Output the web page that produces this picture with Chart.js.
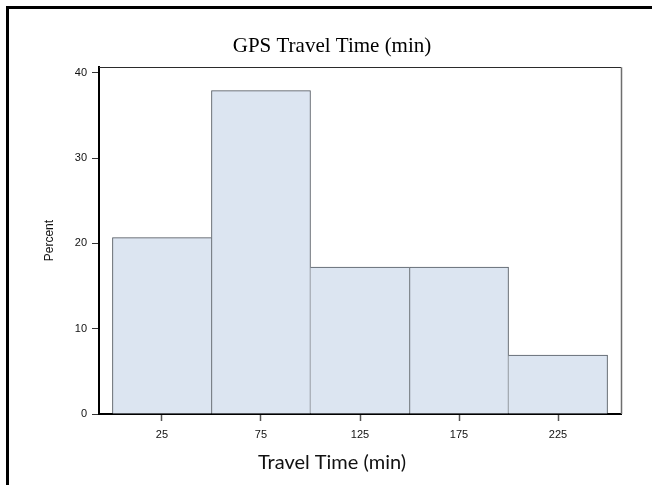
<!DOCTYPE html>
<html>
<head>
<meta charset="utf-8">
<script src="https://cdn.jsdelivr.net/npm/chart.js@4/dist/chart.umd.min.js"></script>
<style>
  html, body { margin: 0; padding: 0; background: #ffffff; }
  #wrap { width: 652px; height: 485px; }
</style>
</head>
<body>
<div id="wrap"><canvas id="c" width="652" height="485"></canvas></div>
<script>
// Histogram bins (midpoints, minutes) and share of trips in each bin (%)
const binMidpoints = [25, 75, 125, 175, 225];
const percents = [20.69, 37.93, 17.24, 17.24, 6.90];
const xTickValues = [25, 75, 125, 175, 225];
const yTickValues = [0, 10, 20, 30, 40];

const chartTitle = 'GPS Travel Time (min)';
const xAxisTitle = 'Travel Time (min)';
const yAxisTitle = 'Percent';

const points = binMidpoints.map((m, i) => ({ x: m, y: percents[i] }));
const lastIndex = points.length - 1;

// Stroke each shared bar edge only once: the taller neighbour owns it
function edgeWidths(i) {
  const cur = percents[i];
  const left = (i === 0 || percents[i - 1] <= cur) ? 1 : 0;
  const right = (i === lastIndex || percents[i + 1] < cur) ? 1 : 0;
  return { top: 1, left, right, bottom: 0 };
}

// Outer page frame plus the box around the plot area
const framePlugin = {
  id: 'frame',
  beforeDraw(chart) {
    const ctx = chart.ctx;
    ctx.save();
    ctx.fillStyle = '#000';
    ctx.fillRect(6, 6, 3, chart.height - 6);
    ctx.fillRect(6, 6, chart.width - 6, 3);
    ctx.restore();
  },
  afterDatasetsDraw(chart) {
    const { ctx, chartArea: a } = chart;
    ctx.save();
    ctx.lineWidth = 1;
    ctx.strokeStyle = '#2b2b2b';
    ctx.beginPath();
    ctx.moveTo(a.left, Math.round(a.top) + 0.5);
    ctx.lineTo(a.right, Math.round(a.top) + 0.5);
    ctx.stroke();
    ctx.strokeStyle = '#6e6e6e';
    ctx.lineWidth = 1.5;
    ctx.beginPath();
    ctx.moveTo(Math.round(a.right) + 0.5, a.top);
    ctx.lineTo(Math.round(a.right) + 0.5, a.bottom);
    ctx.stroke();
    ctx.restore();
  }
};

new Chart(document.getElementById('c'), {
  type: 'bar',
  data: {
    datasets: [{
      data: points,
      backgroundColor: '#dce5f1',
      borderColor: '#4f565e',
      borderSkipped: 'start',
      borderWidth: (ctx) => edgeWidths(ctx.dataIndex),
      barPercentage: 1,
      categoryPercentage: 1
    }]
  },
  options: {
    responsive: false,
    devicePixelRatio: 1,
    animation: false,
    layout: { padding: { left: 12, right: 0, top: 0, bottom: 0 } },
    plugins: {
      legend: { display: false },
      tooltip: { enabled: false },
      title: {
        display: true,
        text: chartTitle,
        color: '#000',
        font: { family: '"Liberation Serif", "Times New Roman", serif', size: 21, weight: 'normal', lineHeight: 1.2 },
        padding: { top: 34, bottom: 8 }
      },
      subtitle: {
        display: true,
        position: 'bottom',
        text: xAxisTitle,
        color: '#111',
        font: { family: 'Lato, "Open Sans", sans-serif', size: 20, weight: 'normal', lineHeight: 1.2 },
        padding: { top: 0, bottom: 10 }
      }
    },
    scales: {
      x: {
        type: 'linear',
        position: 'bottom',
        offset: false,
        min: -6.8,
        max: 256.8,
        afterBuildTicks: (s) => { s.ticks = xTickValues.map(v => ({ value: v })); },
        afterFit: (s) => { s.height = 37; },
        grid: { offset: false, drawOnChartArea: false, drawTicks: true, tickLength: 7, tickColor: '#555', tickWidth: 1.5 },
        border: { display: true, color: '#000', width: 2 },
        ticks: {
          autoSkip: false, maxRotation: 0, padding: 7, color: '#111',
          font: { family: '"Liberation Sans", Arial, sans-serif', size: 11 }
        }
      },
      y: {
        type: 'linear',
        position: 'left',
        min: 0,
        max: 40.67,
        afterBuildTicks: (s) => { s.ticks = yTickValues.map(v => ({ value: v })); },
        afterFit: (s) => { s.width = 87; },
        grid: { drawOnChartArea: false, drawTicks: true, tickLength: 7, tickColor: '#333', tickWidth: 1 },
        border: { display: true, color: '#000', width: 2 },
        ticks: {
          padding: 5, color: '#111',
          font: { family: '"Liberation Sans", Arial, sans-serif', size: 11 }
        },
        title: {
          display: true,
          text: yAxisTitle,
          color: '#111',
          font: { family: '"Liberation Sans", Arial, sans-serif', size: 12 },
          padding: { top: 30, bottom: 0 }
        }
      },
      yRight: {
        type: 'linear',
        position: 'right',
        display: true,
        afterFit: (s) => { s.width = 31; },
        grid: { display: false },
        border: { display: false },
        ticks: { display: false }
      }
    }
  },
  plugins: [framePlugin]
});
</script>
</body>
</html>
